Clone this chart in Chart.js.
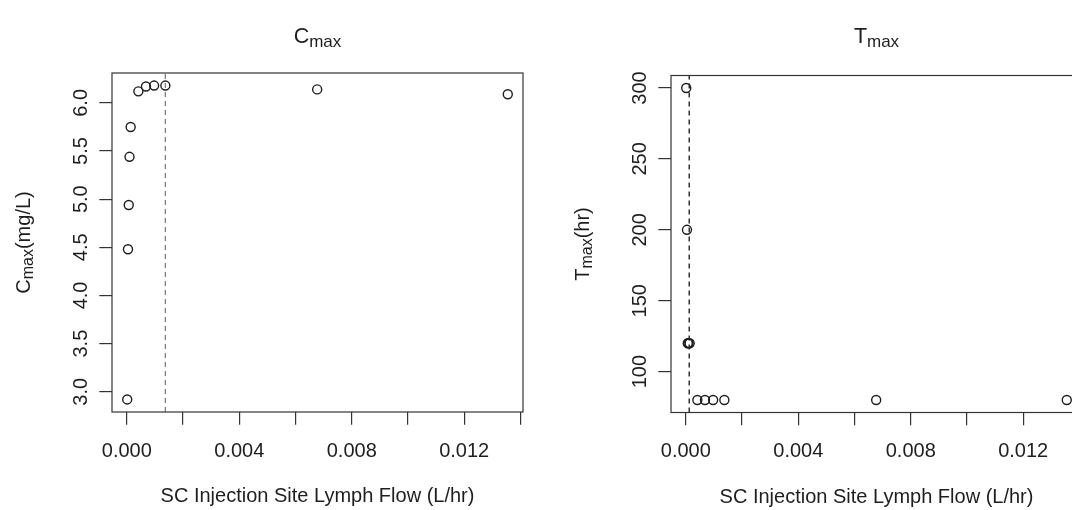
<!DOCTYPE html>
<html>
<head>
<meta charset="UTF-8">
<script src="https://cdn.jsdelivr.net/npm/chart.js@4"></script>
<style>
  html, body { margin: 0; padding: 0; background: #fff; overflow: hidden; }
  body { width: 1072px; height: 510px; position: relative; }
  .panel { position: absolute; top: 0; width: 560px; height: 510px; }
  #cmax-wrap { left: 0; }
  #tmax-wrap { left: 559px; }
</style>
</head>
<body>
<div class="panel" id="cmax-wrap"><canvas id="cmax" width="560" height="510"></canvas></div>
<div class="panel" id="tmax-wrap"><canvas id="tmax" width="560" height="510"></canvas></div>
<script>
// lymph flow at the SC injection site (L/hr), one entry per simulation
const lymphFlow = [0.0000135, 0.00004, 0.000068, 0.000095, 0.000136, 0.00041, 0.00068, 0.00097, 0.00137, 0.00677, 0.01355];
const cmax = [2.92, 4.48, 4.94, 5.44, 5.75, 6.12, 6.17, 6.18, 6.18, 6.14, 6.09];
const tmax = [300, 200, 120, 120, 120, 80, 80, 80, 80, 80, 80];

// reference flow marked with a dashed line in each panel
const cmaxRefFlow = 0.00137;
const tmaxRefFlow = 0.00012;

const xTicks = [0, 0.002, 0.004, 0.006, 0.008, 0.010, 0.012, 0.014];
const xTickLabels = ['0.000', '', '0.004', '', '0.008', '', '0.012', ''];
const cmaxTicks = [3.0, 3.5, 4.0, 4.5, 5.0, 5.5, 6.0];
const cmaxTickLabels = ['3.0', '3.5', '4.0', '4.5', '5.0', '5.5', '6.0'];
const tmaxTicks = [100, 150, 200, 250, 300];
const tmaxTickLabels = ['100', '150', '200', '250', '300'];

const FONT = '"Liberation Sans", Arial, sans-serif';
const INK = '#1e1e1e';

// base-graphics style axis limits: data range widened by 4% on both ends
function padRange(vals) {
  const lo = Math.min(...vals), hi = Math.max(...vals);
  const d = (hi - lo) * 0.04;
  return [lo - d, hi + d];
}

// draws text runs side by side, centred on cx; dy lowers a run (subscripts)
function drawRuns(ctx, runs, cx, by) {
  let total = 0;
  runs.forEach(r => {
    ctx.font = r.size + 'px ' + FONT;
    r.w = ctx.measureText(r.text).width;
    total += r.w;
  });
  let x = cx - total / 2;
  ctx.textAlign = 'left';
  ctx.textBaseline = 'alphabetic';
  runs.forEach(r => {
    ctx.font = r.size + 'px ' + FONT;
    ctx.fillText(r.text, x, by + (r.dy || 0));
    x += r.w;
  });
}

const frame = {
  id: 'frame',
  afterDraw(chart, args, o) {
    const { ctx, chartArea: a, scales: { x, y } } = chart;
    ctx.save();
    ctx.strokeStyle = '#333';
    ctx.lineWidth = 1.2;
    ctx.strokeRect(a.left, a.top, a.right - a.left, a.bottom - a.top);

    ctx.fillStyle = INK;
    ctx.font = '20px ' + FONT;
    ctx.textAlign = 'center';
    ctx.textBaseline = 'alphabetic';
    x.ticks.forEach((t, i) => {
      if (xTickLabels[i]) ctx.fillText(xTickLabels[i], x.getPixelForValue(t.value), a.bottom + 44.5);
    });

    // y tick labels run bottom-to-top like the axis title
    y.ticks.forEach((t, i) => {
      ctx.save();
      ctx.translate(a.left - 25.2, y.getPixelForValue(t.value));
      ctx.rotate(-Math.PI / 2);
      ctx.font = '20px ' + FONT;
      ctx.textAlign = 'center';
      ctx.fillText(o.yLabels[i], 0, 0);
      ctx.restore();
    });

    const cx = (a.left + a.right) / 2;
    drawRuns(ctx, [{ text: o.sym, size: 21.5 }, { text: 'max', size: 17, dy: 3.5 }], cx, 43);

    ctx.font = '20px ' + FONT;
    ctx.textAlign = 'center';
    ctx.fillText('SC Injection Site Lymph Flow (L/hr)', cx, a.bottom + 90);

    ctx.save();
    ctx.translate(a.left - 82, (a.top + a.bottom) / 2);
    ctx.rotate(-Math.PI / 2);
    drawRuns(ctx, [
      { text: o.sym, size: 20 },
      { text: 'max', size: 16, dy: 3.4 },
      { text: o.unit, size: 20 }
    ], 0, 0);
    ctx.restore();
    ctx.restore();
  }
};

function makePanel(id, values, yTicks, yLabels, refFlow, refColor, sym, unit, top, bottom) {
  const [xMin, xMax] = padRange(lymphFlow);
  const [yMin, yMax] = padRange(values);
  return new Chart(document.getElementById(id), {
    type: 'scatter',
    data: {
      datasets: [
        {
          data: lymphFlow.map((f, i) => ({ x: f, y: values[i] })),
          pointStyle: 'circle',
          pointRadius: 4.5,
          pointBorderWidth: 1.4,
          pointBorderColor: INK,
          pointBackgroundColor: 'rgba(0,0,0,0)'
        },
        {
          data: [{ x: refFlow, y: yMin }, { x: refFlow, y: yMax }],
          showLine: true,
          pointRadius: 0,
          borderColor: refColor,
          borderWidth: 1.3,
          borderDash: [5, 4]
        }
      ]
    },
    options: {
      responsive: false,
      animation: false,
      events: [],
      layout: { padding: { left: 112, right: 37, top: top, bottom: bottom } },
      plugins: {
        legend: { display: false },
        tooltip: { enabled: false },
        frame: { sym: sym, unit: unit, yLabels: yLabels }
      },
      scales: {
        x: {
          type: 'linear',
          min: xMin,
          max: xMax,
          afterBuildTicks: s => { s.ticks = xTicks.map(v => ({ value: v })); },
          afterFit: s => { s.height = 0; },
          ticks: { display: false },
          border: { display: false },
          grid: { drawOnChartArea: false, drawTicks: true, tickLength: 12.7, color: '#333', lineWidth: 1.2 }
        },
        y: {
          type: 'linear',
          min: yMin,
          max: yMax,
          afterBuildTicks: s => { s.ticks = yTicks.map(v => ({ value: v })); },
          afterFit: s => { s.width = 0; },
          ticks: { display: false },
          border: { display: false },
          grid: { drawOnChartArea: false, drawTicks: true, tickLength: 12.7, color: '#333', lineWidth: 1.2 }
        }
      }
    },
    plugins: [frame]
  });
}

makePanel('cmax', cmax, cmaxTicks, cmaxTickLabels, cmaxRefFlow, '#808080', 'C', '(mg/L)', 73, 98);
makePanel('tmax', tmax, tmaxTicks, tmaxTickLabels, tmaxRefFlow, '#111', 'T', '(hr)', 75.5, 97.5);
</script>
</body>
</html>
